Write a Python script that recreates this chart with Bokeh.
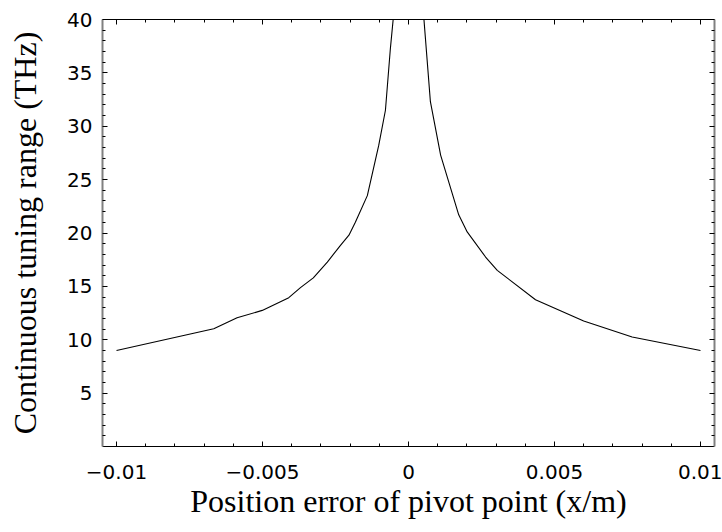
from bokeh.plotting import figure
from bokeh.models import Range1d, FixedTicker, LinearAxis, CustomJSTickFormatter
from bokeh.embed import file_html
from bokeh.resources import INLINE

# ---- data ----
pos_error = [-0.0100, -0.00667, -0.00587, -0.00501, -0.00410, -0.00370, -0.00326,
             -0.00278, -0.00233, -0.00204, -0.00182, -0.00141, -0.00102, -0.00079,
             -0.00062, -0.00035, 0.00040, 0.00075, 0.00110, 0.00172, 0.00201,
             0.00264, 0.00304, 0.00435, 0.00600, 0.00766, 0.01000]
tuning_range = [9.0, 11.03, 12.06, 12.75, 13.94, 14.88, 15.8,
                17.28, 18.84, 19.8, 21.0, 23.5, 28.2, 31.5,
                37.3, 45.0, 44.5, 32.3, 27.3, 21.7, 20.1,
                17.75, 16.5, 13.75, 11.75, 10.25, 9.0]

x_ticks = [-0.01, -0.005, 0.0, 0.005, 0.01]
x_tick_labels = ["\u22120.01", "\u22120.005", "0", "0.005", "0.01"]
x_minor = [-0.009, -0.008, -0.007, -0.006, -0.004, -0.003, -0.002, -0.001,
           0.001, 0.002, 0.003, 0.004, 0.006, 0.007, 0.008, 0.009]
y_ticks = [5, 10, 15, 20, 25, 30, 35, 40]
y_minor = [1, 2, 3, 4, 6, 7, 8, 9, 11, 12, 13, 14, 16, 17, 18, 19, 21, 22, 23, 24,
           26, 27, 28, 29, 31, 32, 33, 34, 36, 37, 38, 39]

x_title = "Position error of pivot point (x/m)"
y_title = "Continuous tuning range (THz)"

p = figure(width=722, height=532, output_backend="svg", toolbar_location=None,
           x_range=Range1d(-0.01048, 0.01048), y_range=Range1d(0, 40),
           x_axis_type=None, y_axis_type=None,
           min_border_left=102, min_border_right=8, min_border_top=19,
           min_border_bottom=86)
p.outline_line_color = None
p.grid.visible = False
p.background_fill_color = "white"
p.border_fill_color = "white"

xfmt = CustomJSTickFormatter(args=dict(tvals=x_ticks, tlabels=x_tick_labels), code="""
    for (let i = 0; i < tvals.length; i++) {
        if (Math.abs(tvals[i] - tick) < 1e-9) return tlabels[i];
    }
    return "";
""")
blank = CustomJSTickFormatter(code="return '';")

def style(ax, line_color="black", line_width=1):
    ax.axis_line_color = line_color
    ax.axis_line_width = line_width
    ax.major_tick_in = 5
    ax.major_tick_out = 0
    ax.minor_tick_in = 3
    ax.minor_tick_out = 0
    ax.major_tick_line_color = "black"
    ax.minor_tick_line_color = "black"
    ax.major_label_text_font = "DejaVu Sans"
    ax.major_label_text_font_size = "20px"
    ax.major_label_text_color = "black"
    ax.axis_label_text_font = "Liberation Serif"
    ax.axis_label_text_font_size = "32px"
    ax.axis_label_text_font_style = "normal"
    ax.axis_label_text_color = "black"

xb = LinearAxis(ticker=FixedTicker(ticks=x_ticks, minor_ticks=x_minor),
                formatter=xfmt, axis_label=x_title)
style(xb)
xb.major_label_standoff = 18
xb.axis_label_standoff = 1
p.add_layout(xb, "below")

xt = LinearAxis(ticker=FixedTicker(ticks=x_ticks, minor_ticks=x_minor), formatter=blank)
style(xt)
xt.major_label_standoff = 0
p.add_layout(xt, "above")

yl = LinearAxis(ticker=FixedTicker(ticks=y_ticks, minor_ticks=y_minor),
                axis_label=y_title)
style(yl, "#808080", 2)
yl.major_label_standoff = 10
yl.axis_label_standoff = 21
p.add_layout(yl, "left")

yr = LinearAxis(ticker=FixedTicker(ticks=y_ticks, minor_ticks=y_minor), formatter=blank)
style(yr, "#808080", 2)
yr.major_label_standoff = 0
p.add_layout(yr, "right")

p.line(pos_error, tuning_range, line_color="black", line_width=1.1)

open("out.html", "w").write(file_html(p, INLINE))
